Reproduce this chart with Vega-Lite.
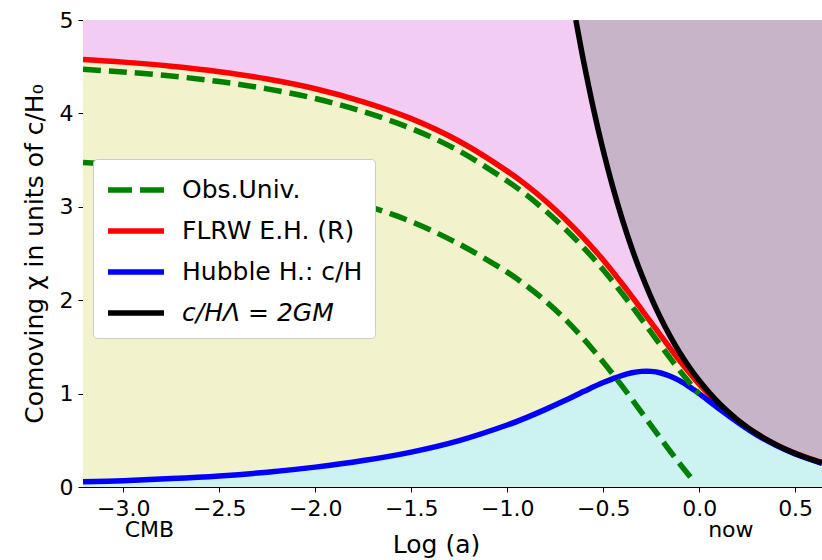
{
  "$schema": "https://vega.github.io/schema/vega-lite/v6.json",
  "width": 739,
  "height": 467,
  "autosize": "none",
  "padding": {"left": 83, "top": 20, "right": 0, "bottom": 73},
  "background": "white",
  "config": {
    "font": "DejaVu Sans",
    "view": {"stroke": "black", "strokeWidth": 1},
    "axis": {
      "labelFont": "DejaVu Sans",
      "titleFont": "DejaVu Sans",
      "labelFontSize": 22,
      "titleFontSize": 25,
      "titleFontWeight": "normal",
      "labelColor": "black",
      "titleColor": "black",
      "tickColor": "black",
      "domainColor": "black",
      "tickSize": 5,
      "grid": false,
      "labelFlush": false
    }
  },
  "datasets": {
    "main": [
      {"x": -3.21, "red": 4.577, "g1": 4.472, "g2": 3.475, "blue": 0.055},
      {"x": -3.0, "red": 4.549, "g1": 4.444, "g2": 3.447, "blue": 0.068},
      {"x": -2.75, "red": 4.505, "g1": 4.400, "g2": 3.403, "blue": 0.090},
      {"x": -2.5, "red": 4.446, "g1": 4.341, "g2": 3.344, "blue": 0.119},
      {"x": -2.25, "red": 4.368, "g1": 4.263, "g2": 3.266, "blue": 0.159},
      {"x": -2.0, "red": 4.264, "g1": 4.159, "g2": 3.162, "blue": 0.213},
      {"x": -1.75, "red": 4.124, "g1": 4.019, "g2": 3.022, "blue": 0.283},
      {"x": -1.5, "red": 3.944, "g1": 3.839, "g2": 2.842, "blue": 0.374},
      {"x": -1.25, "red": 3.702, "g1": 3.597, "g2": 2.600, "blue": 0.497},
      {"x": -1.0, "red": 3.382, "g1": 3.277, "g2": 2.300, "blue": 0.664},
      {"x": -0.9, "red": 3.232, "g1": 3.127, "g2": 2.155, "blue": 0.743},
      {"x": -0.8, "red": 3.062, "g1": 2.957, "g2": 1.990, "blue": 0.831},
      {"x": -0.7, "red": 2.873, "g1": 2.768, "g2": 1.801, "blue": 0.925},
      {"x": -0.6, "red": 2.663, "g1": 2.558, "g2": 1.581, "blue": 1.024},
      {"x": -0.5, "red": 2.431, "g1": 2.326, "g2": 1.339, "blue": 1.118},
      {"x": -0.4, "red": 2.174, "g1": 2.069, "g2": 1.077, "blue": 1.196},
      {"x": -0.35, "red": 2.039, "g1": 1.934, "g2": 0.940, "blue": 1.223},
      {"x": -0.3, "red": 1.900, "g1": 1.795, "g2": 0.798, "blue": 1.238},
      {"x": -0.25, "red": 1.760, "g1": 1.655, "g2": 0.658, "blue": 1.238},
      {"x": -0.2, "red": 1.621, "g1": 1.516, "g2": 0.519, "blue": 1.221},
      {"x": -0.15, "red": 1.482, "g1": 1.377, "g2": 0.380, "blue": 1.186},
      {"x": -0.1, "red": 1.348, "g1": 1.243, "g2": 0.246, "blue": 1.136},
      {"x": -0.05, "red": 1.221, "g1": 1.116, "g2": 0.119, "blue": 1.072},
      {"x": -0.03, "red": 1.172, "g1": 1.067, "g2": 0.070, "blue": 1.044},
      {"x": 0.0, "red": 1.102, "g1": 0.997, "g2": null, "blue": 1.0},
      {"x": 0.1, "red": 0.889, "g1": null, "g2": null, "blue": 0.844},
      {"x": 0.2, "red": 0.712, "g1": null, "g2": null, "blue": 0.694},
      {"x": 0.3, "red": 0.568, "g1": null, "g2": null, "blue": 0.558},
      {"x": 0.4, "red": 0.453, "g1": null, "g2": null, "blue": 0.446},
      {"x": 0.5, "red": 0.360, "g1": null, "g2": null, "blue": 0.354},
      {"x": 0.64, "red": 0.261, "g1": null, "g2": null, "blue": 0.254}
    ],
    "bh": [
      {"x": -0.6425, "black": 5.0},
      {"x": -0.62, "black": 4.751},
      {"x": -0.6, "black": 4.537},
      {"x": -0.55, "black": 4.044},
      {"x": -0.5, "black": 3.604},
      {"x": -0.45, "black": 3.212},
      {"x": -0.4, "black": 2.863},
      {"x": -0.35, "black": 2.551},
      {"x": -0.3, "black": 2.274},
      {"x": -0.25, "black": 2.027},
      {"x": -0.2, "black": 1.806},
      {"x": -0.15, "black": 1.610},
      {"x": -0.1, "black": 1.435},
      {"x": -0.05, "black": 1.279},
      {"x": 0.0, "black": 1.140},
      {"x": 0.05, "black": 1.016},
      {"x": 0.1, "black": 0.905},
      {"x": 0.15, "black": 0.807},
      {"x": 0.2, "black": 0.719},
      {"x": 0.25, "black": 0.641},
      {"x": 0.3, "black": 0.571},
      {"x": 0.35, "black": 0.509},
      {"x": 0.4, "black": 0.454},
      {"x": 0.45, "black": 0.404},
      {"x": 0.5, "black": 0.360},
      {"x": 0.55, "black": 0.321},
      {"x": 0.6, "black": 0.286},
      {"x": 0.64, "black": 0.261}
    ],
    "notes": [
      {"label": "CMB", "x": -3.04},
      {"label": "now", "x": 0.0}
    ]
  },
  "layer": [
    {
      "data": {"name": "main"},
      "mark": {"type": "area", "color": "#ccf2f2", "opacity": 1, "interpolate": "catmull-rom", "clip": true},
      "encoding": {
        "x": {
          "field": "x", "type": "quantitative",
          "scale": {"domain": [-3.21, 0.64], "nice": false, "zero": false},
          "axis": {"title": "Log (a)", "values": [-3, -2.5, -2, -1.5, -1, -0.5, 0, 0.5], "format": ".1f", "labelPadding": 6, "titlePadding": 13, "titleX": 353, "titleAlign": "center"}
        },
        "y": {
          "field": "blue", "type": "quantitative",
          "scale": {"domain": [0, 5], "nice": false, "zero": false},
          "axis": {"title": "Comoving χ  in units of c/H₀", "values": [0, 1, 2, 3, 4, 5], "format": "d", "labelPadding": 5, "titlePadding": 12}
        },
        "y2": {"datum": 0}
      }
    },
    {
      "data": {"name": "main"},
      "mark": {"type": "area", "color": "#f2f2cc", "opacity": 1, "interpolate": "catmull-rom", "clip": true},
      "encoding": {
        "x": {"field": "x", "type": "quantitative"},
        "y": {"field": "red", "type": "quantitative"},
        "y2": {"field": "blue"}
      }
    },
    {
      "data": {"name": "main"},
      "mark": {"type": "area", "color": "#f2ccf2", "opacity": 1, "interpolate": "catmull-rom", "clip": true},
      "encoding": {
        "x": {"field": "x", "type": "quantitative"},
        "y": {"field": "red", "type": "quantitative"},
        "y2": {"datum": 5}
      }
    },
    {
      "data": {"name": "bh"},
      "mark": {"type": "area", "color": "#c8b4c8", "opacity": 1, "interpolate": "catmull-rom", "clip": true},
      "encoding": {
        "x": {"field": "x", "type": "quantitative"},
        "y": {"field": "black", "type": "quantitative"},
        "y2": {"datum": 5}
      }
    },
    {
      "data": {"name": "main"},
      "transform": [{"fold": ["red"], "as": ["series", "value"]}],
      "mark": {"type": "line", "strokeWidth": 5.5, "interpolate": "catmull-rom", "clip": true},
      "encoding": {
        "x": {"field": "x", "type": "quantitative"},
        "y": {"field": "value", "type": "quantitative"},
        "color": {
          "field": "series", "type": "nominal",
          "scale": {"domain": ["g1", "red", "blue", "black", "g2"], "range": ["#008000", "#ff0000", "#0000ff", "#000000", "#008000"]},
          "legend": {
            "title": null,
            "orient": "none",
            "legendX": 10,
            "legendY": 139,
            "values": ["g1", "red", "blue", "black"],
            "labelExpr": "datum.value == 'g1' ? 'Obs.Univ.' : datum.value == 'red' ? 'FLRW E.H. (R)' : datum.value == 'blue' ? 'Hubble H.: c/H' : 'c/HΛ = 2GM'",
            "symbolType": "M-1,0H2.5",
            "symbolSize": 1024,
            "symbolStrokeWidth": 5.5,
            "symbolDash": {"expr": "datum.value == 'g1' ? [24, 8] : [1, 0]"},
            "labelFont": "DejaVu Sans",
            "labelFontSize": 25,
            "labelFontStyle": {"expr": "datum.value == 'black' ? 'italic' : 'normal'"},
            "labelColor": "black",
            "labelOffset": 39,
            "labelLimit": 400,
            "rowPadding": 9,
            "padding": 12,
            "fillColor": "white",
            "strokeColor": "#cccccc",
            "cornerRadius": 4
          }
        }
      }
    },
    {
      "data": {"name": "main"},
      "transform": [{"fold": ["blue"], "as": ["series", "value"]}],
      "mark": {"type": "line", "strokeWidth": 5.5, "interpolate": "catmull-rom", "clip": true},
      "encoding": {
        "x": {"field": "x", "type": "quantitative"},
        "y": {"field": "value", "type": "quantitative"},
        "color": {"field": "series", "type": "nominal"}
      }
    },
    {
      "data": {"name": "bh"},
      "transform": [{"fold": ["black"], "as": ["series", "value"]}],
      "mark": {"type": "line", "strokeWidth": 5.5, "interpolate": "catmull-rom", "clip": true},
      "encoding": {
        "x": {"field": "x", "type": "quantitative"},
        "y": {"field": "value", "type": "quantitative"},
        "color": {"field": "series", "type": "nominal"}
      }
    },
    {
      "data": {"name": "main"},
      "transform": [{"fold": ["g1", "g2"], "as": ["series", "value"]}],
      "mark": {"type": "line", "strokeWidth": 5.5, "strokeDash": [18, 8], "interpolate": "catmull-rom", "clip": true},
      "encoding": {
        "x": {"field": "x", "type": "quantitative"},
        "y": {"field": "value", "type": "quantitative"},
        "color": {"field": "series", "type": "nominal"}
      }
    },
    {
      "data": {"name": "notes"},
      "mark": {"type": "text", "align": "left", "baseline": "alphabetic", "dx": 9, "fontSize": 22, "font": "DejaVu Sans", "color": "black"},
      "encoding": {
        "x": {"field": "x", "type": "quantitative"},
        "y": {"datum": -0.535},
        "text": {"field": "label"}
      }
    }
  ]
}
